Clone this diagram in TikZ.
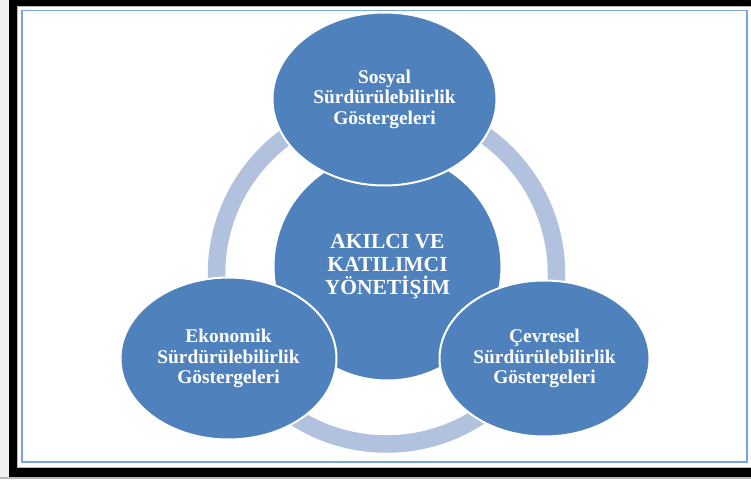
\documentclass[tikz,border=0pt]{standalone}
\usepackage{fontspec}
\setmainfont{Liberation Serif}
\usetikzlibrary{shapes.geometric}
\definecolor{blob}{RGB}{79,129,189}
\definecolor{ringc}{RGB}{178,193,221}
\definecolor{frameblue}{RGB}{120,165,225}
\begin{document}
\begin{tikzpicture}[x=1pt,y=-1pt,
  blobshape/.style={shape=ellipse,fill=blob,draw=white,line width=2pt,inner sep=0pt,text=white,align=center},
  outertext/.style={font=\fontsize{19.4}{20.5}\selectfont\bfseries},
  centertext/.style={font=\fontsize{21.5}{23}\selectfont\bfseries}]
\useasboundingbox (0,0) rectangle (751,479);
\fill[white] (0,0) rectangle (751,479);
\fill[gray!12] (0,0) rectangle (9,479);
\fill[gray!55] (0,477) rectangle (751,479);
\fill[black] (9,0) rectangle (770,477);
\fill[white] (17,6) rectangle (770,468);
\draw[gray!55,line width=1pt] (17.5,6.5) rectangle (780,467.5);
\draw[frameblue,line width=1.5pt] (22,10.5) rectangle (747,462);
% ring
\coordinate (ringc) at (386.5,274);
\draw[ringc,line width=17.5pt] (ringc) circle[radius=170pt];
% center
\node[blobshape,centertext,shape=circle,minimum size=228pt] (center) at (387.5,266.5)
  {AKILCI VE\\KATILIMCI\\YÖNETİŞİM};
% outer
\node[blobshape,outertext,minimum width=224pt,minimum height=173pt] (sosyal) at (384.5,99)
  {Sosyal\\Sürdürülebilirlik\\Göstergeleri};
\node[blobshape,outertext,minimum width=216pt,minimum height=162pt] (ekonomik) at (228.5,358.5)
  {Ekonomik\\Sürdürülebilirlik\\Göstergeleri};
\node[blobshape,outertext,minimum width=210pt,minimum height=156pt] (cevresel) at (544.5,358.5)
  {Çevresel\\Sürdürülebilirlik\\Göstergeleri};
\end{tikzpicture}
\end{document}
